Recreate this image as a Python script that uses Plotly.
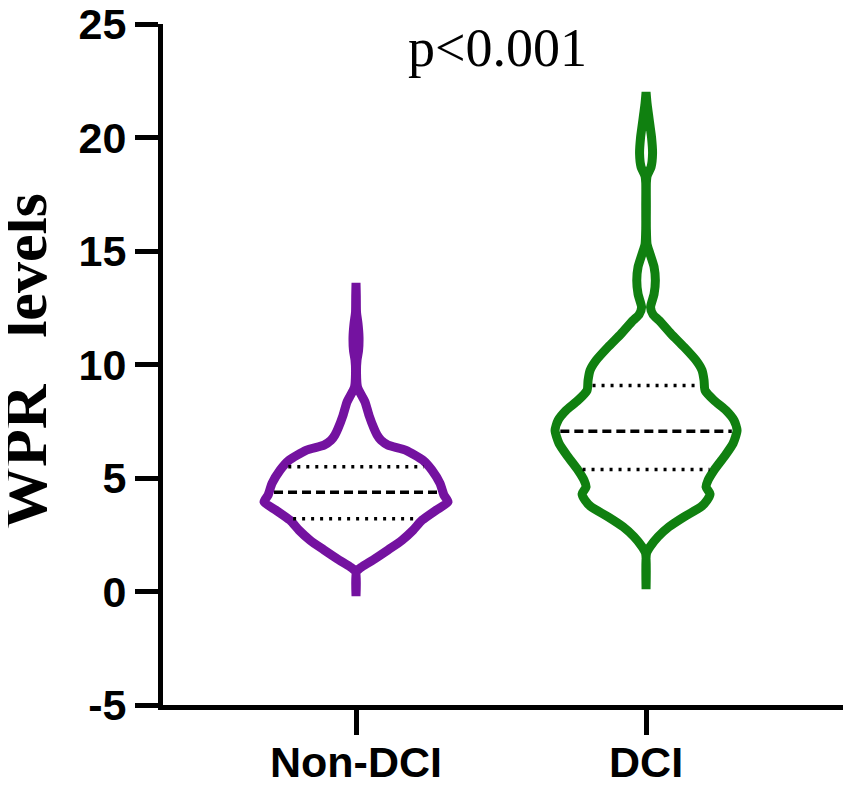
import numpy as np
import plotly.graph_objects as go

# ---- data ----
categories = ["Non-DCI", "DCI"]
colors = ["#7412A0", "#108010"]

# density profile (value, relative half-width) for each group, bottom -> top
nondci_values = [-0.2, 0.87, 1.09, 1.39, 1.83, 2.26, 2.70, 3.14, 3.58, 3.95, 4.24, 4.76, 5.34, 5.78,
                 6.22, 6.45, 6.66, 6.90, 7.18, 7.76, 8.35, 8.60, 9.00, 9.60, 10.2, 10.6, 11.2, 11.8,
                 12.3, 13.0, 13.6]
nondci_density = [0, 0.5, 6, 17, 32, 46, 57, 66, 80, 92, 88, 84, 76, 67,
                  50, 32, 25, 21, 18, 13, 9, 6, 1.5, 0.5, 1.0, 2.5, 3.0, 2.0,
                  0.5, 0.3, 0]

dci_values = [0.1, 1.69, 1.97, 2.41, 2.85, 3.29, 3.73, 4.02, 4.30, 4.60, 4.90, 5.34, 5.93, 6.52,
              7.10, 7.54, 7.98, 8.42, 8.86, 9.30, 9.74, 10.18, 10.77, 11.35, 11.94, 12.2, 12.52,
              13.1, 13.7, 14.3, 14.87, 15.3, 16.0, 17.0, 18.0, 18.3, 18.7, 19.3, 20.0, 20.5,
              21.0, 21.5, 22.0]
dci_density = [0, 0.5, 4, 12, 23, 38, 55, 61, 64, 60, 62, 68, 78, 87,
               91, 88, 80, 68, 59, 58, 56, 50, 38, 25, 13, 7, 4.5,
               8, 9.3, 8, 4, 1, 0.3, 0.3, 0.3, 1, 5, 6.5, 5.5, 4,
               2.5, 1, 0]

medians = [4.37, 7.06]
q1 = [3.20, 5.37]
q3 = [5.50, 9.08]

y_ticks = [-5, 0, 5, 10, 15, 20, 25]
y_ticktext = ["-5", "0", "5", "10", "15", "20", "25"]
p_text = "p<0.001"
y_title = "WPR\u00a0\u00a0\u00a0levels"

# ---- layout constants (page body has an 8px margin) ----
OFF = 8
W, H = 851 - 2 * OFF, 790 - 2 * OFF
ML, MR, MT, MB = 155, 0, 16, 77
PW, PH = W - ML - MR, H - MT - MB
XR = [-0.6655, 1.679]
px_per_unit = PW / (XR[1] - XR[0])
dens_scale = 1.0 / px_per_unit  # density units are px of half-width
LW = 9


def paper_x(ref_px):
    return (ref_px - OFF - ML) / PW


def paper_y(ref_py):
    return (H - MB - (ref_py - OFF)) / PH


fig = go.Figure()

profiles = [(nondci_values, nondci_density), (dci_values, dci_density)]
for i, (vals, dens) in enumerate(profiles):
    vals = np.array(vals, float)
    dens = np.array(dens, float) * dens_scale
    xs = np.concatenate([i + dens, (i - dens)[::-1], [i + dens[0]]])
    ys = np.concatenate([vals, vals[::-1], [vals[0]]])
    fig.add_trace(go.Scatter(x=xs, y=ys, mode="lines",
                             line=dict(color=colors[i], width=LW, shape="spline", smoothing=0.6),
                             hoverinfo="skip", showlegend=False, cliponaxis=False))
    inset = (LW / 2 + 0.5) / px_per_unit
    for val, dash in [(medians[i], "9px,5px"), (q1[i], "3px,6px"), (q3[i], "3px,6px")]:
        hw = np.interp(val, vals, dens) - inset
        fig.add_trace(go.Scatter(x=[i - hw, i + hw], y=[val, val], mode="lines",
                                 line=dict(color="black", width=3.5, dash=dash),
                                 hoverinfo="skip", showlegend=False))

fig.add_annotation(text=p_text, xref="paper", yref="paper",
                   x=paper_x(497), y=paper_y(48),
                   xanchor="center", yanchor="middle", showarrow=False,
                   font=dict(family="Liberation Serif, Times New Roman, serif", size=54, color="black"))

fig.add_annotation(text="<b>" + y_title + "</b>", xref="paper", yref="paper",
                   x=paper_x(25), y=paper_y(361),
                   xanchor="center", yanchor="middle", textangle=-90, showarrow=False,
                   font=dict(family="Liberation Serif, Times New Roman, serif", size=62, color="black"))

tick_font = dict(family="Liberation Sans, Arial, sans-serif", size=43, color="black", weight="bold")

fig.update_layout(
    width=W, height=H, autosize=False,
    margin=dict(l=ML, r=MR, t=MT, b=MB, pad=0, autoexpand=False),
    paper_bgcolor="white", plot_bgcolor="white",
    xaxis=dict(range=XR, tickvals=[0, 1], ticktext=categories, showgrid=False, zeroline=False,
               showline=True, linecolor="black", linewidth=5, ticks="outside", ticklen=25,
               tickwidth=5, tickcolor="black", tickfont=tick_font, ticklabelstandoff=-10,
               ticklabeloverflow="allow", automargin=False),
    yaxis=dict(range=[-5, 25], tickvals=y_ticks, ticktext=y_ticktext, showgrid=False,
               zeroline=False, showline=True, linecolor="black", linewidth=5, ticks="outside",
               ticklen=23, tickwidth=5, tickcolor="black", tickfont=tick_font,
               ticklabeloverflow="allow", automargin=False),
)

fig.write_html("out.html")
